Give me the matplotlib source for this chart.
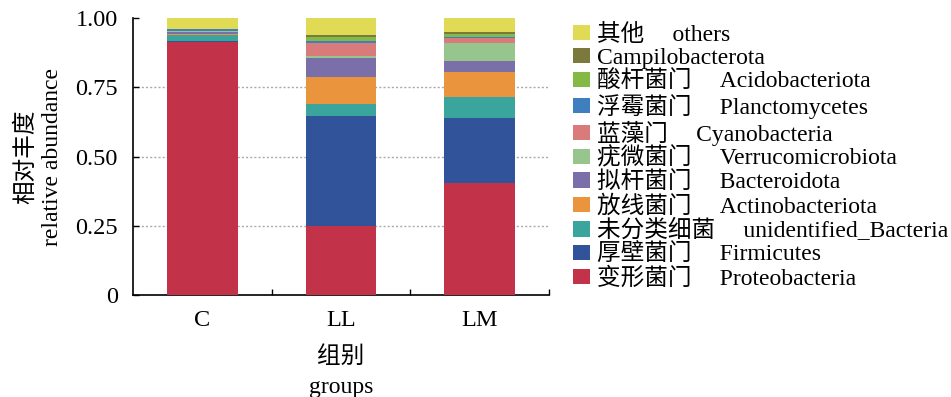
import matplotlib
matplotlib.use("Agg")
import matplotlib.pyplot as plt
import numpy as np

plt.rcParams['font.family'] = ['Liberation Serif', 'Noto Sans CJK SC']

groups = ["C", "LL", "LM"]

GAP = "    \u2009"

# phyla listed bottom-to-top in stacking order
phyla = [
    "变形菌门" + GAP + "Proteobacteria",
    "厚壁菌门" + GAP + "Firmicutes",
    "未分类细菌" + GAP + "unidentified_Bacteria",
    "放线菌门" + GAP + "Actinobacteriota",
    "拟杆菌门" + GAP + "Bacteroidota",
    "疣微菌门" + GAP + "Verrucomicrobiota",
    "蓝藻门" + GAP + "Cyanobacteria",
    "浮霉菌门" + GAP + "Planctomycetes",
    "酸杆菌门" + GAP + "Acidobacteriota",
    "Campilobacterota",
    "其他" + GAP + "others",
]

proteobacteria = [0.915, 0.250, 0.404]
firmicutes = [0.003, 0.398, 0.236]
unidentified_bacteria = [0.021, 0.042, 0.074]
actinobacteriota = [0.003, 0.096, 0.090]
bacteroidota = [0.007, 0.071, 0.041]
verrucomicrobiota = [0.004, 0.007, 0.064]
cyanobacteria = [0.001, 0.045, 0.019]
planctomycetes = [0.005, 0.008, 0.003]
acidobacteriota = [0.001, 0.015, 0.011]
campilobacterota = [0.001, 0.007, 0.007]
others = [0.039, 0.061, 0.051]

series = [proteobacteria, firmicutes, unidentified_bacteria, actinobacteriota,
          bacteroidota, verrucomicrobiota, cyanobacteria, planctomycetes,
          acidobacteriota, campilobacterota, others]

colors = ["#C2334A", "#30539A", "#3AA59D", "#EA953D", "#7A6FA8", "#96C68E",
          "#D97B7B", "#3F7FBF", "#84B945", "#7B7A3C", "#E0DA55"]

FS = 17

fig = plt.figure(figsize=(9.51, 3.97), dpi=100)
ax = fig.add_axes([0.1399, 0.2569, 0.4374, 0.6977])

x = np.arange(len(groups))
bottom = np.zeros(len(groups))
handles = []
for vals, col, name in zip(series, colors, phyla):
    h = ax.bar(x, vals, width=0.51, bottom=bottom, color=col, label=name,
               linewidth=0, zorder=3)
    handles.append(h)
    bottom += np.array(vals)

ax.set_xlim(-0.5, 2.5)
ax.set_ylim(0, 1.0)
ax.set_yticks([0, 0.25, 0.5, 0.75, 1.0])
ax.set_yticklabels(["0", "0.25", "0.50", "0.75", "1.00"])
ax.set_xticks(x)
ax.set_xticklabels(groups)
ax.set_xticks([0.5, 1.5, 2.5], minor=True)

for y in [0.25, 0.5, 0.75]:
    ax.axhline(y, color="#AAAAAA", linestyle=(0, (1.5, 1.5)), linewidth=1.0, zorder=1)

for s in ["top", "right"]:
    ax.spines[s].set_visible(False)
for s in ["left", "bottom"]:
    ax.spines[s].set_linewidth(1.2)

ax.tick_params(axis="y", direction="in", length=4, width=1.0, pad=11, labelsize=17.5)
ax.tick_params(axis="x", which="major", length=0, pad=10.5, labelsize=17.5)
ax.tick_params(axis="x", which="minor", direction="in", length=4, width=1.0)

ax.set_ylabel("相对丰度\nrelative abundance", fontsize=FS, labelpad=9, linespacing=1.3)
ax.set_xlabel("组别\ngroups", fontsize=FS, labelpad=11, linespacing=1.55)

leg = ax.legend(handles[::-1], [h.get_label() for h in handles[::-1]],
                loc="upper left", bbox_to_anchor=(1.035, 1.012), frameon=False,
                fontsize=FS, handlelength=0.72, handleheight=0.62,
                handletextpad=0.28, labelspacing=0.07, borderaxespad=0)

fig.savefig("out.png", dpi=100)
